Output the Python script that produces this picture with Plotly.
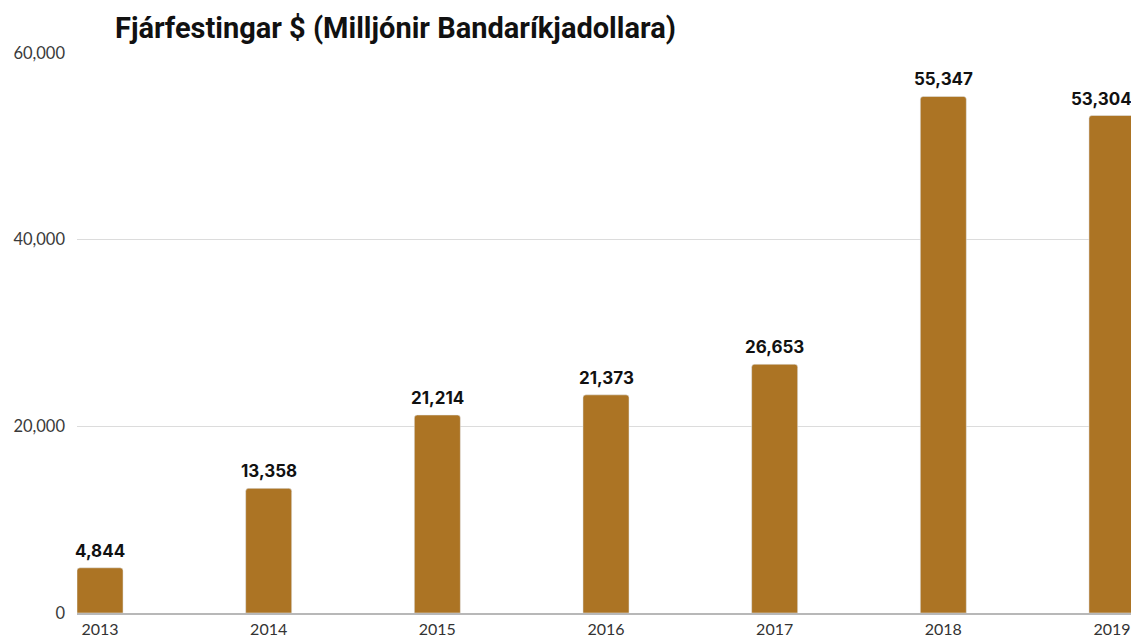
import plotly.graph_objects as go

years = ["2013", "2014", "2015", "2016", "2017", "2018", "2019"]
bar_values = [4844, 13358, 21214, 23373, 26653, 55347, 53304]
label_texts = ["4,844", "13,358", "21,214", "21,373", "26,653", "55,347", "53,304"]
y_ticks = [0, 20000, 40000, 60000]
title_text = "Fjárfestingar $ (Milljónir Bandaríkjadollara)"

# page has an 8px body margin, so the figure is sized/offset accordingly
W, H = 1131, 631
ml, mr, mt, mb = 69, 4, 45, 26

xs = list(range(len(years)))

fig = go.Figure(go.Bar(
    x=xs,
    y=bar_values,
    marker=dict(color="#AC7424", cornerradius=3),
    hoverinfo="skip",
))

label_annotations = []
for i, (x, v, t) in enumerate(zip(xs, bar_values, label_texts)):
    last = i == len(xs) - 1
    label_annotations.append(dict(
        x=x, y=v, xref="x", yref="y", text=t, showarrow=False,
        xanchor="right" if last else "center", xshift=22 if last else 0,
        yanchor="bottom", yshift=5,
        font=dict(family="Inter, Roboto, sans-serif", size=17, color="#111111", weight="bold"),
    ))

fig.update_layout(
    width=W, height=H,
    margin=dict(l=ml, r=mr, t=mt, b=mb),
    plot_bgcolor="white", paper_bgcolor="white",
    bargap=0.727,
    showlegend=False,
    xaxis=dict(
        tickmode="array", tickvals=xs, ticktext=years,
        range=[-0.1365, 6.1365],
        showgrid=False, showline=True, linecolor="#b8b8b8", linewidth=2,
        ticks="", ticklabelstandoff=1, automargin=False,
        tickfont=dict(family="Lato, sans-serif", size=16, color="#333333"),
        zeroline=False,
    ),
    yaxis=dict(
        range=[0, 60000], tickvals=y_ticks, tickformat=",",
        showgrid=True, gridcolor="#dcdcdc", gridwidth=1,
        zeroline=False, showline=False, ticks="", automargin=False,
        ticklabelstandoff=11,
        tickfont=dict(family="Lato, sans-serif", size=16.5, color="#3a3a3a"),
    ),
    annotations=label_annotations + [dict(
        text=title_text, xref="paper", yref="paper",
        x=(105 - ml) / (W - ml - mr), y=1 + (45 - 20) / (H - mt - mb),
        xanchor="left", yanchor="middle", showarrow=False,
        font=dict(family="Roboto, sans-serif", size=29, color="#111111", weight="bold"),
    )],
)

fig.write_html("out.html")
